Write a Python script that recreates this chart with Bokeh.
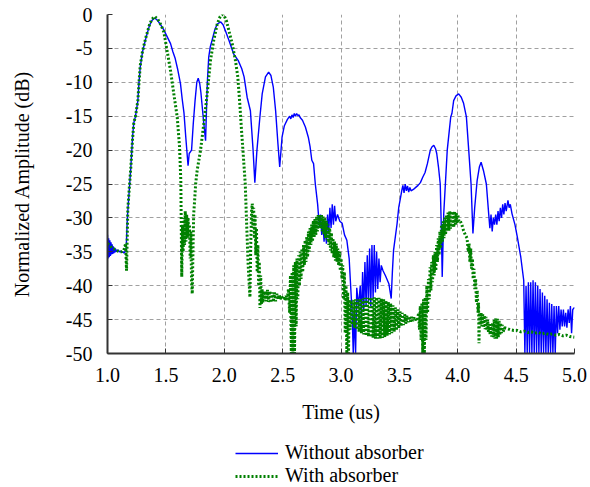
from bokeh.plotting import figure
from bokeh.models import Range1d, FixedTicker, Legend, LegendItem
from bokeh.layouts import column
from bokeh.embed import file_html
from bokeh.resources import INLINE

# ---------------- data ----------------
x_ticks = [1.0, 1.5, 2.0, 2.5, 3.0, 3.5, 4.0, 4.5, 5.0]
y_ticks = [0, -5, -10, -15, -20, -25, -30, -35, -40, -45, -50]
series_names = ["Without absorber", "With absorber"]

without_t = [
    1.000, 1.005, 1.010, 1.015, 1.020, 1.025, 1.030, 1.035, 1.040, 1.045,
    1.050, 1.055, 1.060, 1.065, 1.070, 1.080, 1.090, 1.100, 1.110, 1.120,
    1.130, 1.140, 1.150, 1.160, 1.170, 1.180, 1.190, 1.200, 1.215, 1.225,
    1.240, 1.260, 1.270, 1.280, 1.300, 1.330, 1.360, 1.380, 1.405, 1.430,
    1.450, 1.480, 1.500, 1.520, 1.540, 1.560, 1.580, 1.600, 1.625, 1.640,
    1.655, 1.670, 1.690, 1.700, 1.720, 1.735, 1.750, 1.765, 1.777, 1.790,
    1.800, 1.820, 1.840, 1.855, 1.867, 1.880, 1.896, 1.920, 1.940, 1.970,
    1.990, 2.010, 2.040, 2.080, 2.120, 2.150, 2.170, 2.196, 2.224, 2.247,
    2.262, 2.280, 2.305, 2.325, 2.353, 2.380, 2.400, 2.420, 2.440, 2.460,
    2.475, 2.495, 2.515, 2.540, 2.560, 2.570, 2.580, 2.590, 2.600, 2.610,
    2.620, 2.630, 2.640, 2.650, 2.670, 2.695, 2.720, 2.735, 2.750, 2.765,
    2.780, 2.800, 2.815, 2.825, 2.835, 2.845, 2.855, 2.865, 2.875, 2.885,
    2.895, 2.905, 2.915, 2.925, 2.935, 2.945, 2.955, 2.970, 2.990, 3.010,
    3.030, 3.050, 3.070, 3.080, 3.095, 3.105, 3.115, 3.125, 3.135, 3.150,
    3.165, 3.175, 3.185, 3.195, 3.205, 3.215, 3.225, 3.235, 3.245, 3.255,
    3.265, 3.275, 3.285, 3.295, 3.305, 3.315, 3.325, 3.335, 3.345, 3.360,
    3.380, 3.410, 3.430, 3.440, 3.450, 3.480, 3.495, 3.510, 3.520, 3.530,
    3.540, 3.550, 3.560, 3.570, 3.580, 3.590, 3.600, 3.620, 3.640, 3.660,
    3.680, 3.700, 3.720, 3.740, 3.765, 3.780, 3.795, 3.810, 3.820, 3.835,
    3.850, 3.860, 3.867, 3.880, 3.910, 3.940, 3.950, 3.965, 3.985, 4.008,
    4.030, 4.050, 4.074, 4.094, 4.114, 4.130, 4.145, 4.166, 4.185, 4.200,
    4.220, 4.245, 4.265, 4.275, 4.285, 4.295, 4.305, 4.315, 4.325, 4.335,
    4.345, 4.355, 4.365, 4.375, 4.385, 4.395, 4.405, 4.415, 4.430, 4.440,
    4.450, 4.465, 4.490, 4.510, 4.540, 4.565, 4.575, 4.585, 4.595, 4.605,
    4.615, 4.625, 4.635, 4.645, 4.655, 4.665, 4.675, 4.685, 4.695, 4.705,
    4.715, 4.725, 4.735, 4.745, 4.755, 4.765, 4.775, 4.785, 4.795, 4.805,
    4.815, 4.825, 4.835, 4.845, 4.855, 4.865, 4.875, 4.885, 4.895, 4.905,
    4.915, 4.925, 4.935, 4.945, 4.955, 4.965, 4.975, 4.985, 5.000,
]
without_db = [
    -32.5, -36.0, -33.0, -35.8, -33.3, -35.6, -33.6, -35.4, -33.9, -35.3,
    -34.2, -35.2, -34.4, -35.1, -34.6, -35.0, -34.7, -35.0, -34.9, -35.1,
    -35.0, -35.2, -35.0, -34.5, -30.0, -27.5, -25.0, -22.5, -18.0, -16.0,
    -15.0, -12.7, -10.0, -7.8, -5.5, -3.4, -1.6, -0.9, -0.5, -0.9,
    -1.4, -2.2, -2.9, -3.6, -4.3, -5.5, -6.5, -8.0, -10.2, -12.5,
    -14.5, -18.0, -22.3, -20.5, -20.0, -16.0, -12.7, -10.0, -9.4, -10.2,
    -11.5, -15.2, -18.6, -10.0, -6.3, -4.8, -3.8, -2.2, -1.4, -1.1,
    -1.5, -2.4, -3.8, -5.8, -6.8, -8.0, -9.2, -12.2, -14.2, -20.0,
    -24.8, -20.0, -15.2, -11.7, -9.2, -8.5, -9.0, -10.7, -14.2, -19.1,
    -22.5, -18.1, -16.4, -15.5, -15.0, -15.4, -14.8, -15.2, -14.6, -15.0,
    -14.6, -14.9, -14.8, -15.2, -15.6, -16.6, -18.1, -19.5, -21.5, -22.0,
    -25.0, -28.0, -31.4, -29.5, -32.5, -30.5, -33.5, -31.0, -33.8, -29.5,
    -32.0, -28.5, -31.5, -28.0, -31.0, -28.2, -30.5, -29.5, -30.5, -30.8,
    -32.5, -33.3, -36.0, -39.2, -44.0, -50.0, -44.0, -50.0, -40.3, -43.0,
    -40.0, -45.0, -38.0, -43.5, -36.5, -43.0, -35.5, -42.5, -34.5, -43.0,
    -34.0, -42.0, -34.0, -41.0, -35.0, -40.5, -36.0, -39.5, -37.0, -37.8,
    -38.5, -39.7, -41.9, -38.0, -34.8, -30.9, -28.4, -27.0, -26.0, -25.2,
    -26.3, -25.0, -26.0, -25.3, -26.2, -25.5, -26.0, -25.8, -25.5, -25.2,
    -24.8, -24.0, -23.3, -22.0, -20.0, -19.5, -19.3, -19.8, -20.5, -22.5,
    -25.0, -32.0, -38.7, -29.4, -20.0, -15.1, -14.6, -12.7, -12.0, -11.7,
    -12.2, -13.1, -15.1, -20.0, -25.0, -32.3, -28.5, -24.5, -22.5, -21.8,
    -23.0, -25.0, -29.4, -31.5, -29.5, -32.0, -30.0, -31.0, -29.5, -31.0,
    -29.0, -30.5, -28.5, -30.0, -28.0, -29.5, -27.8, -29.0, -27.4, -28.5,
    -28.0, -29.4, -31.0, -32.8, -35.8, -39.2, -50.0, -40.0, -50.0, -39.5,
    -50.0, -39.5, -50.0, -39.2, -50.0, -39.5, -50.0, -40.0, -50.0, -40.5,
    -50.0, -41.0, -50.0, -41.5, -50.0, -42.0, -50.0, -42.5, -50.0, -42.7,
    -50.0, -43.0, -50.0, -43.0, -47.0, -43.0, -46.5, -43.5, -46.0, -43.5,
    -46.0, -44.0, -46.2, -43.5, -45.5, -43.0, -47.0, -43.5, -43.2,
]

with_t = [
    1.000, 1.020, 1.040, 1.060, 1.080, 1.100, 1.120, 1.140, 1.155, 1.163,
    1.174, 1.185, 1.200, 1.215, 1.225, 1.240, 1.260, 1.270, 1.280, 1.300,
    1.330, 1.360, 1.380, 1.405, 1.430, 1.460, 1.483, 1.510, 1.540, 1.568,
    1.597, 1.617, 1.628, 1.636, 1.642, 1.648, 1.654, 1.660, 1.666, 1.672,
    1.678, 1.684, 1.690, 1.696, 1.702, 1.708, 1.714, 1.720, 1.726, 1.732,
    1.738, 1.746, 1.755, 1.768, 1.797, 1.825, 1.854, 1.882, 1.910, 1.940,
    1.965, 1.985, 2.000, 2.020, 2.040, 2.068, 2.096, 2.116, 2.133, 2.148,
    2.162, 2.180, 2.190, 2.205, 2.220, 2.228, 2.234, 2.240, 2.246, 2.252,
    2.258, 2.264, 2.270, 2.276, 2.282, 2.288, 2.294, 2.300, 2.306, 2.312,
    2.318, 2.324, 2.330, 2.336, 2.342, 2.350, 2.360, 2.370, 2.380, 2.390,
    2.400, 2.410, 2.420, 2.430, 2.440, 2.450, 2.460, 2.470, 2.480, 2.490,
    2.500, 2.510, 2.520, 2.530, 2.540, 2.550, 2.560, 2.567, 2.574, 2.581,
    2.588, 2.595, 2.602, 2.609, 2.616, 2.623, 2.630, 2.637, 2.644, 2.651,
    2.658, 2.665, 2.672, 2.679, 2.686, 2.693, 2.700, 2.707, 2.714, 2.721,
    2.728, 2.735, 2.742, 2.749, 2.756, 2.763, 2.770, 2.777, 2.784, 2.791,
    2.798, 2.805, 2.812, 2.819, 2.826, 2.833, 2.840, 2.847, 2.854, 2.861,
    2.868, 2.875, 2.882, 2.889, 2.896, 2.903, 2.910, 2.917, 2.924, 2.931,
    2.938, 2.945, 2.952, 2.959, 2.966, 2.973, 2.980, 2.987, 2.994, 3.001,
    3.008, 3.015, 3.022, 3.029, 3.036, 3.043, 3.050, 3.057, 3.064, 3.071,
    3.078, 3.085, 3.095, 3.105, 3.115, 3.125, 3.135, 3.145, 3.155, 3.165,
    3.175, 3.185, 3.195, 3.205, 3.215, 3.225, 3.235, 3.245, 3.255, 3.265,
    3.275, 3.285, 3.295, 3.305, 3.315, 3.325, 3.335, 3.345, 3.355, 3.365,
    3.375, 3.385, 3.395, 3.405, 3.415, 3.425, 3.435, 3.445, 3.455, 3.465,
    3.475, 3.485, 3.495, 3.505, 3.515, 3.525, 3.535, 3.545, 3.555, 3.565,
    3.575, 3.585, 3.595, 3.605, 3.615, 3.625, 3.635, 3.645, 3.655, 3.665,
    3.672, 3.679, 3.686, 3.693, 3.700, 3.707, 3.714, 3.721, 3.728, 3.735,
    3.742, 3.749, 3.756, 3.763, 3.770, 3.777, 3.784, 3.791, 3.798, 3.805,
    3.812, 3.819, 3.826, 3.833, 3.840, 3.847, 3.854, 3.861, 3.868, 3.875,
    3.882, 3.889, 3.896, 3.903, 3.910, 3.917, 3.924, 3.931, 3.938, 3.945,
    3.952, 3.959, 3.966, 3.973, 3.980, 3.987, 3.994, 4.000, 4.010, 4.020,
    4.035, 4.050, 4.065, 4.080, 4.090, 4.097, 4.104, 4.111, 4.118, 4.125,
    4.132, 4.139, 4.146, 4.153, 4.160, 4.167, 4.174, 4.178, 4.182, 4.186,
    4.193, 4.200, 4.207, 4.214, 4.221, 4.228, 4.235, 4.242, 4.249, 4.256,
    4.263, 4.270, 4.277, 4.284, 4.291, 4.298, 4.305, 4.312, 4.319, 4.326,
    4.333, 4.340, 4.347, 4.354, 4.361, 4.368, 4.375, 4.382, 4.389, 4.400,
    4.420, 4.450, 4.480, 4.510, 4.540, 4.570, 4.600, 4.630, 4.660, 4.690,
    4.720, 4.750, 4.780, 4.810, 4.840, 4.870, 4.900, 4.930, 4.960, 5.000,
]
with_db = [
    -33.8, -34.0, -34.5, -34.6, -34.8, -35.0, -35.0, -34.8, -33.8, -37.8,
    -28.7, -26.0, -22.5, -18.3, -16.0, -15.0, -12.7, -10.0, -7.6, -5.4,
    -3.3, -1.5, -0.7, -0.3, -0.7, -1.6, -2.6, -5.3, -8.3, -11.7,
    -15.1, -19.5, -24.5, -38.7, -31.0, -35.0, -30.0, -34.0, -29.0, -33.5,
    -29.5, -33.0, -30.0, -32.5, -31.0, -36.0, -32.0, -39.5, -41.2, -35.0,
    -29.5, -27.5, -25.0, -23.0, -20.0, -16.1, -11.7, -6.8, -3.8, -1.4,
    -0.3, 0.0, -0.2, -1.0, -2.4, -4.3, -6.8, -9.2, -13.1, -17.1,
    -20.5, -25.0, -30.0, -37.0, -41.7, -33.0, -29.0, -27.9, -31.5, -28.5,
    -33.0, -29.5, -35.5, -31.5, -38.0, -34.0, -40.0, -36.5, -43.3, -38.5,
    -42.8, -40.5, -42.5, -40.8, -42.2, -40.8, -42.3, -40.6, -42.4, -40.8,
    -42.5, -41.0, -42.4, -41.0, -42.3, -41.2, -42.0, -41.3, -42.0, -41.5,
    -42.0, -41.5, -42.2, -41.5, -42.0, -40.5, -44.0, -38.5, -50.0, -38.0,
    -50.0, -37.0, -50.0, -36.5, -46.0, -36.0, -42.0, -35.5, -40.0, -35.0,
    -39.0, -34.5, -38.0, -34.0, -37.0, -33.3, -36.5, -32.8, -35.8, -32.0,
    -35.0, -31.5, -34.0, -31.0, -33.5, -30.4, -32.8, -30.0, -32.5, -29.8,
    -32.0, -29.6, -31.4, -29.5, -31.5, -29.6, -32.0, -29.8, -32.5, -30.0,
    -33.0, -30.4, -33.3, -31.0, -34.0, -31.5, -34.8, -32.2, -35.3, -33.0,
    -35.8, -33.5, -36.3, -33.8, -36.5, -34.5, -37.0, -35.0, -37.8, -36.0,
    -39.0, -37.0, -42.0, -38.0, -47.0, -40.0, -50.0, -41.0, -50.0, -42.0,
    -46.5, -42.2, -45.8, -42.1, -46.2, -42.0, -46.5, -42.0, -46.8, -41.9,
    -47.0, -41.9, -47.2, -41.8, -47.4, -41.8, -47.5, -41.7, -47.6, -41.7,
    -47.7, -41.7, -47.8, -41.7, -47.8, -41.8, -47.8, -41.9, -47.7, -42.0,
    -47.6, -42.2, -47.4, -42.4, -47.2, -42.6, -47.0, -42.9, -46.8, -43.2,
    -46.6, -43.5, -46.3, -43.8, -46.0, -44.0, -45.8, -44.2, -45.6, -44.4,
    -45.4, -44.5, -45.3, -44.6, -45.2, -44.7, -45.1, -44.8, -45.0, -44.0,
    -46.5, -43.0, -48.0, -42.5, -50.0, -42.0, -50.0, -41.7, -48.0, -40.0,
    -44.0, -39.0, -42.0, -37.3, -40.7, -36.5, -39.5, -35.5, -38.5, -35.0,
    -37.8, -34.0, -36.5, -33.0, -35.5, -32.0, -34.5, -31.0, -33.5, -30.5,
    -33.0, -30.0, -32.5, -29.6, -32.0, -29.2, -31.9, -29.0, -31.6, -29.0,
    -31.4, -29.1, -31.4, -29.0, -31.0, -29.3, -30.8, -29.5, -30.5, -30.4,
    -31.0, -31.9, -32.5, -33.0, -35.0, -33.8, -36.5, -34.5, -37.5, -36.0,
    -39.0, -37.5, -40.5, -39.0, -42.5, -40.7, -44.0, -42.5, -48.5, -44.0,
    -45.8, -44.0, -46.0, -44.2, -46.2, -44.4, -46.4, -44.6, -46.6, -45.0,
    -46.8, -45.5, -47.2, -46.0, -47.5, -45.5, -47.6, -45.0, -47.8, -44.8,
    -47.8, -44.9, -47.6, -45.2, -47.3, -45.5, -47.0, -45.8, -46.8, -46.2,
    -46.3, -46.5, -46.6, -46.6, -46.8, -46.7, -46.9, -46.8, -47.0, -46.9,
    -47.1, -47.0, -47.2, -47.1, -47.3, -47.2, -47.4, -47.3, -47.5, -47.6,
]

# ---------------- styles ----------------
FONT = "Liberation Serif"
BLUE = dict(line_color="#0000FF", line_width=1.4)
GREEN = dict(line_color="#008000", line_width=3.0, line_dash="2 2")

# ---------------- main figure ----------------
p = figure(
    width=590, height=440,
    x_range=Range1d(1.0, 5.0), y_range=Range1d(-50, 0),
    output_backend="svg", toolbar_location=None,
    min_border_left=107, min_border_right=16, min_border_top=14,
    min_border_bottom=87,
)
p.background_fill_color = "white"
p.border_fill_color = "white"
p.outline_line_color = None

p.line(without_t, without_db, **BLUE)
p.line(with_t, with_db, **GREEN)

for ax in (p.xaxis[0], p.yaxis[0]):
    ax.axis_line_color = "#333333"
    ax.axis_line_width = 2
    ax.major_tick_line_color = "#333333"
    ax.major_tick_in = 5
    ax.major_tick_out = 0
    ax.minor_tick_line_color = None
    ax.major_label_text_font = FONT
    ax.major_label_text_font_size = "20px"
    ax.major_label_text_color = "black"
    ax.axis_label_text_font = FONT
    ax.axis_label_text_font_size = "20px"
    ax.axis_label_text_font_style = "normal"
    ax.axis_label_text_color = "black"

p.xaxis.ticker = FixedTicker(ticks=x_ticks)
p.xaxis.major_label_overrides = {t: f"{t:.1f}" for t in x_ticks}
p.xaxis.major_label_standoff = 14
p.xaxis.axis_label = "Time (us)"
p.xaxis.axis_label_standoff = 16

p.yaxis.ticker = FixedTicker(ticks=y_ticks)
p.yaxis.major_label_overrides = {t: f"{t}" for t in y_ticks}
p.yaxis.major_label_standoff = 15
p.yaxis.axis_label = "Normalized Amplitude (dB)"
p.yaxis.axis_label_standoff = 30

for g in (p.xgrid[0], p.ygrid[0]):
    g.grid_line_color = "#A0A0A0"
    g.grid_line_dash = "4 3"
    g.grid_line_width = 1

# ---------------- legend strip below (keys only; curves fall outside its range) ----------------
lg = figure(
    width=590, height=47, x_range=Range1d(1.0, 5.0), y_range=Range1d(100, 101),
    output_backend="svg", toolbar_location=None,
    min_border_left=107, min_border_right=16, min_border_top=0,
    min_border_bottom=0,
)
lg.axis.visible = False
lg.grid.visible = False
lg.outline_line_color = None
lg.background_fill_color = "white"
lg.border_fill_color = "white"
k_without = lg.line(without_t, without_db, **BLUE)
k_with = lg.line(with_t, with_db, **GREEN)

legend = Legend(
    items=[LegendItem(label=series_names[0], renderers=[k_without]),
           LegendItem(label=series_names[1], renderers=[k_with])],
    location=(128, 0), orientation="vertical",
    label_text_font=FONT, label_text_font_size="20px",
    label_text_color="black",
    glyph_width=43, glyph_height=20, label_height=20, label_standoff=7,
    spacing=0, padding=0, margin=0,
    border_line_color=None, background_fill_alpha=0,
)
lg.add_layout(legend, "center")

layout = column(p, lg, spacing=0)
open("out.html", "w").write(file_html(layout, INLINE))
